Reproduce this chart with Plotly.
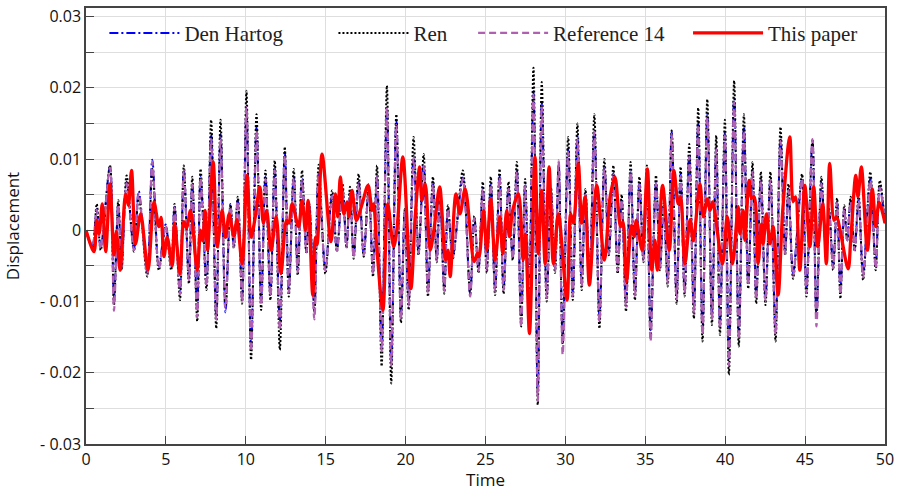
import plotly.graph_objects as go

# ---------------- data (displacement in units of 1e-3) ----------------
t_osc = [0.00, 0.40, 0.67, 0.92, 1.50, 1.75, 2.02, 2.23, 2.54, 3.00, 3.30, 3.83, 4.15, 4.56, 4.98, 5.33, 5.54, 5.88,
         6.12, 6.44, 6.65, 6.96, 7.17, 7.54, 7.83, 8.15, 8.42, 8.73, 9.04, 9.25, 9.50, 9.77, 10.04, 10.33, 10.67, 10.96,
         11.23, 11.54, 11.81, 12.13, 12.44, 12.69, 13.00, 13.25, 13.52, 13.79, 13.98, 14.29, 14.56, 14.98, 15.40, 15.70,
         16.05, 16.30, 16.52, 16.75, 17.06, 17.38, 17.69, 17.96, 18.21, 18.50, 18.83, 19.10, 19.42, 19.71, 19.95, 20.19,
         20.50, 20.81, 21.13, 21.40, 21.71, 21.95, 22.15, 22.42, 22.65, 22.95, 23.58, 24.04, 24.30, 24.56, 24.83, 25.08,
         25.33, 25.60, 25.88, 26.13, 26.44, 26.70, 26.96, 27.23, 27.48, 27.72, 28.00, 28.27, 28.52, 28.83, 29.10, 29.35,
         29.58, 29.83, 30.17, 30.46, 30.75, 31.02, 31.25, 31.52, 31.81, 32.13, 32.44, 32.72, 33.00, 33.27, 33.52, 33.79,
         34.08, 34.35, 34.63, 34.88, 35.10, 35.33, 35.67, 35.92, 36.15, 36.40, 36.65, 36.96, 37.21, 37.46, 37.75, 38.04,
         38.31, 38.58, 38.88, 39.17, 39.44, 39.67, 39.98, 40.23, 40.56, 40.85, 41.17, 41.44, 41.71, 41.94, 42.23, 42.52,
         42.83, 43.15, 43.46, 43.75, 43.96, 44.25, 44.81, 45.08, 45.46, 45.71, 46.02, 46.30, 46.50, 46.75, 47.00, 47.21,
         47.45, 47.63, 47.85, 48.10, 48.35, 48.63, 49.08, 49.42, 49.67, 50.00]

ren = [0.0, -2.5, 3.7, -2.8, 9.1, -10.5, 4.2, -5.6, 7.7, -3.0, 4.7, -6.5, 8.6, -5.6, 0.5, -5.6, 3.7, -9.8,
       9.1, -7.5, 7.5, -12.8, 8.6, -8.4, 15.5, -13.8, 15.5, -10.7, 3.7, -2.5, 4.7, -10.3, 19.6, -18.2, 16.3, -11.2,
       8.4, -9.8, 9.8, -16.8, 11.7, -9.3, 8.6, -6.3, 8.4, -3.3, 3.7, -11.2, 9.2, -6.1, 5.6, -3.0,
       6.5, -2.5, 6.1, -4.0, 7.9, -3.7, 6.5, -6.5, 9.1, -19.1, 20.3, -21.5, 16.3, -13.0, 3.0, -11.2,
       13.1, -3.5, 10.7, -9.3, 7.5, -4.5, 6.0, -8.9, 3.5, -4.0, 8.4, -8.9, 2.0, -6.0, 6.8, -6.0,
       7.5, -9.1, 8.6, -8.9, 6.8, -4.2, 9.6, -13.5, 7.2, -10.0, 22.8, -24.5, 20.8, -10.0, 6.0, -6.0,
       8.5, -16.0, 13.1, -9.8, 15.0, -8.4, 5.8, -6.5, 16.3, -13.8, 10.0, -3.5, 9.1, -6.1, 5.0, -11.4,
       9.6, -9.8, 7.5, -4.5, 9.1, -15.0, 7.7, -5.6, 3.8, -7.9, 14.0, -10.3, 8.9, -9.3, 12.1, -12.4,
       17.2, -15.6, 18.4, -13.3, 13.3, -14.7, 15.5, -20.3, 21.0, -16.3, 16.3, -8.2, 9.6, -10.3, 8.2, -10.5,
       8.2, -15.6, 14.5, -3.5, 6.5, -6.8, 7.9, -9.3, 12.8, -12.5, 7.5, -2.5, 3.0, -5.6, 4.5, -9.6,
       3.5, -1.5, 4.7, -3.0, 5.0, -7.0, 8.2, -5.6, 7.0, 1.0]

den_hartog = [0.0, -2.2, 3.0, -2.4, 9.0, -9.5, 3.8, -5.0, 6.8, -2.6, 5.5, -5.8, 9.9, -5.0, 0.8, -5.0, 3.3, -8.6,
              8.6, -6.7, 6.5, -11.0, 7.5, -7.3, 13.5, -12.0, 13.5, -11.5, 3.5, -2.2, 4.3, -9.5, 17.0, -16.5, 14.5, -10.0,
              7.5, -8.8, 8.7, -13.0, 11.0, -8.5, 7.6, -5.6, 7.2, -3.0, 3.5, -11.5, 8.0, -5.4, 5.0, -2.7,
              5.8, -2.2, 5.4, -3.6, 6.8, -3.3, 5.8, -5.8, 7.8, -16.5, 17.0, -18.5, 15.5, -12.0, 2.8, -10.0,
              10.5, -3.0, 9.2, -8.3, 6.8, -4.0, 5.3, -8.0, 3.2, -3.6, 7.4, -9.0, 1.8, -5.4, 6.0, -5.3,
              6.6, -8.2, 7.6, -7.9, 6.0, -3.8, 8.5, -12.5, 6.4, -9.0, 19.5, -22.5, 18.0, -9.0, 5.3, -5.4,
              9.5, -15.0, 11.5, -8.7, 13.2, -7.5, 5.2, -5.8, 14.0, -12.0, 9.0, -3.1, 8.0, -5.4, 4.4, -10.0,
              8.5, -8.7, 6.6, -4.0, 8.0, -14.0, 6.8, -5.0, 3.4, -7.0, 13.8, -9.2, 7.9, -8.3, 10.7, -11.0,
              15.2, -13.8, 16.3, -11.8, 11.8, -13.0, 13.7, -18.0, 18.6, -14.4, 14.5, -7.3, 8.5, -9.1, 7.3, -9.3,
              7.3, -13.8, 12.9, -3.1, 5.8, -6.0, 7.5, -8.2, 12.6, -12.0, 6.7, -2.2, 2.7, -5.0, 4.0, -8.5,
              3.1, -1.3, 4.2, -2.7, 4.4, -6.2, 7.3, -5.0, 6.2, 1.0]

reference_14 = [0.0, -2.4, 2.9, -2.6, 8.8, -11.3, 3.6, -5.2, 6.6, -2.8, 5.2, -6.2, 9.6, -5.3, 0.7, -5.3, 3.2, -9.0,
                8.4, -7.0, 6.4, -12.2, 7.3, -7.8, 12.8, -12.5, 13.0, -11.0, 3.3, -2.4, 4.1, -10.0, 17.3, -17.0, 14.0, -10.5,
                7.2, -9.2, 8.4, -14.0, 10.5, -8.8, 7.3, -5.9, 7.0, -3.1, 3.3, -12.5, 7.8, -5.7, 4.8, -2.9,
                5.6, -2.4, 5.2, -3.8, 6.6, -3.5, 5.6, -6.1, 7.6, -17.0, 17.2, -19.0, 14.8, -12.5, 2.6, -10.6,
                10.2, -3.2, 9.0, -8.8, 6.5, -4.2, 5.1, -8.5, 3.0, -3.8, 7.2, -9.3, 1.7, -5.7, 5.8, -5.6,
                6.4, -8.6, 7.4, -8.4, 5.8, -4.0, 8.2, -13.5, 6.2, -9.6, 19.0, -24.0, 17.5, -9.5, 5.1, -5.7,
                9.8, -17.5, 11.0, -9.2, 12.8, -7.9, 5.0, -6.1, 13.8, -12.8, 8.7, -3.3, 7.8, -5.7, 4.3, -10.7,
                8.2, -9.2, 6.4, -4.2, 7.7, -15.6, 6.6, -5.3, 3.3, -7.4, 13.5, -9.7, 7.6, -8.8, 10.3, -11.7,
                14.8, -14.7, 15.8, -12.5, 11.4, -13.8, 13.3, -19.0, 18.0, -15.3, 14.0, -7.7, 8.2, -9.7, 7.0, -9.9,
                7.0, -14.7, 12.5, -3.3, 5.6, -6.4, 7.2, -8.8, 12.8, -13.5, 6.5, -2.4, 2.6, -5.3, 3.9, -9.0,
                3.0, -1.4, 4.0, -2.8, 4.3, -6.6, 7.0, -5.3, 6.0, 1.0]

t_red = [0.00, 0.50, 0.67, 0.82, 1.02, 1.23, 1.50, 1.75, 1.90, 2.13, 2.48, 2.65, 2.85, 3.10, 3.42, 3.88, 4.25, 4.56,
         4.70, 4.88, 5.08, 5.40, 5.54, 5.88, 6.12, 6.30, 6.54, 6.96, 7.17, 7.30, 7.46, 7.60, 7.96, 8.21, 8.52, 8.73,
         8.96, 9.25, 9.45, 9.77, 10.08, 10.33, 10.60, 10.88, 11.10, 11.30, 11.58, 11.90, 12.20, 12.55, 12.70, 12.90,
         13.30, 13.52, 13.73, 13.90, 14.19, 14.35, 14.46, 14.77, 15.33, 15.60, 15.75, 15.92, 16.13, 16.33, 16.45, 16.65,
         16.92, 17.28, 17.65, 17.90, 18.00, 18.20, 18.58, 18.88, 19.25, 19.45, 19.83, 20.33, 20.60, 20.88, 21.02, 21.23,
         21.54, 21.80, 22.13, 22.50, 22.65, 22.79, 23.15, 23.40, 23.73, 24.29, 24.50, 24.60, 24.88, 25.08, 25.33, 25.60,
         25.90, 26.08, 26.33, 26.50, 26.70, 27.06, 27.35, 27.50, 27.75, 28.10, 28.30, 28.52, 28.73, 28.98, 29.25, 29.56,
         30.10, 30.33, 30.50, 30.81, 31.02, 31.23, 31.50, 31.96, 32.44, 32.80, 33.10, 33.45, 33.60, 33.83, 34.13, 34.30,
         34.44, 34.80, 35.13, 35.40, 35.60, 35.75, 36.08, 36.50, 36.79, 37.06, 37.21, 37.48, 37.80, 38.00, 38.42, 38.63,
         38.88, 39.05, 39.21, 39.83, 40.13, 40.46, 40.81, 40.92, 41.13, 41.23, 41.50, 41.65, 41.81, 42.06, 42.27, 42.38,
         42.58, 42.80, 43.00, 43.31, 43.60, 44.04, 44.25, 44.40, 44.67, 44.98, 45.30, 45.54, 45.79, 46.10, 46.33, 46.54,
         46.81, 46.96, 47.69, 47.85, 48.17, 48.31, 48.52, 48.90, 49.21, 49.42, 49.63, 50.00]

this_paper = [0.0, -3.0, 1.4, -0.5, 3.7, -3.0, 6.5, -3.5, -0.2, -5.6, 5.1, 3.5, 8.4, -1.9, 2.3, -5.6, 4.0, 0.5,
              1.8, -3.7, -1.0, -5.0, 1.0, -6.1, 1.2, 0.3, 2.8, -5.6, 0.0, -1.5, 2.8, -2.8, 9.6, -2.3, 2.8, -1.0,
              2.3, -0.8, 1.5, -4.7, 7.7, -1.0, 2.0, 6.1, 1.0, 2.8, -2.8, 1.9, -6.1, 1.4, 1.0, 3.7,
              0.5, 4.2, 0.0, 4.2, -9.1, -1.0, -2.0, 10.7, -1.6, 5.1, 1.9, 7.5, 2.3, 4.0, 1.9, 5.6,
              1.4, 3.7, 6.3, 2.8, 3.7, -2.5, -11.2, 3.7, -2.3, 0.0, 10.3, -8.2, 1.9, 8.9, 4.2, 6.5,
              -2.8, 0.5, 6.1, -4.2, -2.8, -6.5, 5.1, 2.3, 5.8, -4.4, -3.2, -3.7, 2.8, -2.8, 4.4, -4.2,
              1.9, -3.3, 2.8, -0.9, 2.8, 5.1, -4.2, -0.5, -14.5, 10.3, -3.3, 5.6, -4.7, 8.9, -4.7, 2.3,
              -9.8, 2.3, 1.0, 9.3, 1.0, 4.7, -7.7, 6.3, -4.2, 4.7, 7.5, 0.5, 1.2, -7.2, 0.7, -0.9,
              1.4, -2.8, 8.6, -5.6, -1.4, -5.6, 6.3, -2.8, 8.4, 3.7, 4.7, -4.7, 1.5, -1.5, 6.5, 1.9,
              4.4, 2.8, 4.0, -4.7, 1.9, -4.7, 3.3, -0.5, 2.8, -1.4, 7.0, 4.5, 4.7, -4.7, 0.9, -1.9,
              2.3, -1.9, 0.5, -9.1, 2.8, 13.1, 4.0, 4.7, -5.6, 6.3, -2.3, 6.1, -2.3, 3.7, -4.7, 9.4,
              1.4, 1.9, -5.4, -1.5, 7.7, 4.7, 8.9, -2.8, 5.8, 0.5, 3.9, 1.0]

series_names = ["Den Hartog", "Ren", "Reference 14", "This paper"]
y_tick_vals = [-0.03, -0.02, -0.01, 0, 0.01, 0.02, 0.03]
y_tick_text = ["- 0.03", "- 0.02", "- 0.01", "0", "0.01", "0.02", "0.03"]
y_minor_vals = [-0.025, -0.015, -0.005, 0.005, 0.015, 0.025]
x_tick_vals = [0, 5, 10, 15, 20, 25, 30, 35, 40, 45, 50]

SCALE = 1e-3

fig = go.Figure()

styles = [
    dict(color="#0000FF", width=2, dash="9px,3px,2px,3px"),
    dict(color="#000000", width=2, dash="2px,2px"),
    dict(color="#B060B0", width=2.2, dash="7px,4px"),
    dict(color="#FF0000", width=3.3, dash="solid"),
]
xs = [t_osc, t_osc, t_osc, t_red]
ys = [den_hartog, ren, reference_14, this_paper]
legend_ids = ["legend", "legend2", "legend3", "legend4"]

for name, x, y, st, lg in zip(series_names, xs, ys, styles, legend_ids):
    fig.add_trace(go.Scatter(
        x=x, y=[v * SCALE for v in y], mode="lines", name=name,
        line=dict(color=st["color"], width=st["width"], dash=st["dash"], shape="spline", smoothing=0.9),
        legend=lg,
    ))

legend_font = dict(family="Liberation Serif, DejaVu Serif, serif", size=21, color="#222")
legend_x = [0.023, 0.3097, 0.4845, 0.7535]


def leg(x):
    return dict(x=x, y=0.942, xanchor="left", yanchor="middle", orientation="h",
                bgcolor="rgba(0,0,0,0)", font=legend_font, itemwidth=70, borderwidth=0)


tick_font = dict(family="Open Sans, Noto Sans, sans-serif", size=16, color="#111")
title_font = dict(family="Open Sans, Noto Sans, sans-serif", size=17, color="#111")

fig.update_layout(
    width=899, height=491,
    margin=dict(l=86, r=14, t=8, b=47, autoexpand=False),
    paper_bgcolor="white", plot_bgcolor="white",
    showlegend=True,
    legend=leg(legend_x[0]), legend2=leg(legend_x[1]), legend3=leg(legend_x[2]), legend4=leg(legend_x[3]),
    xaxis=dict(
        range=[0, 50], tickvals=x_tick_vals, ticktext=[str(v) for v in x_tick_vals],
        showgrid=True, gridcolor="#dedede", gridwidth=1,
        showline=True, linecolor="#444", linewidth=1.5, mirror=True,
        ticks="inside", ticklen=8, tickcolor="#444",
        tickfont=tick_font, zeroline=False, automargin=False,
        title=dict(text="Time", font=title_font, standoff=6),
    ),
    yaxis=dict(
        range=[-0.03, 0.0312], tickvals=y_tick_vals, ticktext=y_tick_text,
        showgrid=True, gridcolor="#dedede", gridwidth=1,
        showline=True, linecolor="#444", linewidth=1.5, mirror=True,
        ticks="inside", ticklen=8, tickcolor="#444",
        minor=dict(tickvals=y_minor_vals, showgrid=True, gridcolor="#dedede", ticks="inside", ticklen=8,
                   tickcolor="#444"),
        tickfont=tick_font, zeroline=False, automargin=False,
        title=dict(text="Displacement", font=title_font, standoff=16),
    ),
)

fig.write_html("out.html", config={"displayModeBar": False},
               post_script="document.body.style.margin='0px';document.body.style.overflow='hidden';")
